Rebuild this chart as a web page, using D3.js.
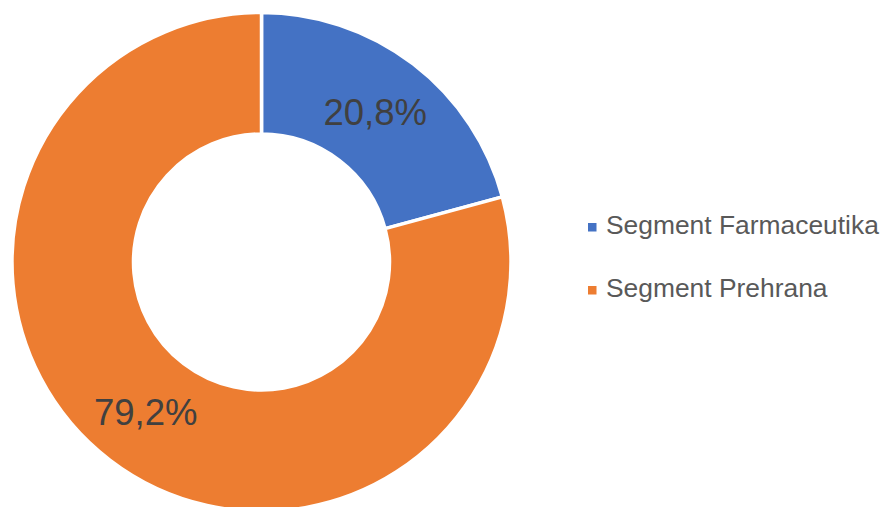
<!DOCTYPE html>
<html>
<head>
<meta charset="utf-8">
<script src="https://cdn.jsdelivr.net/npm/d3@7"></script>
<style>
  body { margin: 0; background: #fff; }
  svg { display: block; }
</style>
</head>
<body>
<svg id="chart" width="880" height="507"></svg>
<script>
var categories = ["Segment Farmaceutika", "Segment Prehrana"];
var shares = [20.8, 79.2];
var labels = ["20,8%", "79,2%"];
var colors = ["#4472C4", "#ED7D31"];

var svg = d3.select("#chart");

// donut geometry
var cx = 261.5, cy = 262,
    outerR = 249.5, innerR = 128;

var data = categories.map(function (c, i) {
    return {name: c, value: shares[i], label: labels[i], color: colors[i]};
});

var pie = d3.pie()
    .sort(null)
    .value(function (d) { return d.value; });

var arc = d3.arc()
    .innerRadius(innerR)
    .outerRadius(outerR);

var g = svg.append("g")
    .attr("transform", "translate(" + cx + "," + cy + ")");

var slices = g.selectAll(".slice")
    .data(pie(data))
    .enter()
    .append("g")
    .attr("class", "slice");

slices.append("path")
    .attr("d", arc)
    .style("fill", function (d) { return d.data.color; })
    .style("stroke", "#fff")
    .style("stroke-width", 3.5);

slices.append("text")
    .attr("transform", function (d) {
        var c = arc.centroid(d);
        return "translate(" + (c[0] - 1) + "," + c[1] + ")";
    })
    .attr("dy", "0.36em")
    .attr("text-anchor", "middle")
    .attr("font-family", "Liberation Sans, Arial, sans-serif")
    .attr("font-size", 36.5)
    .style("fill", "#404040")
    .text(function (d) { return d.data.label; });

// legend
var legend = svg.append("g")
    .attr("transform", "translate(588,227)");

var item = legend.selectAll(".item")
    .data(data)
    .enter()
    .append("g")
    .attr("class", "item")
    .attr("transform", function (d, i) { return "translate(0," + (i * 63) + ")"; });

item.append("rect")
    .attr("x", 0)
    .attr("y", -4)
    .attr("width", 8.5)
    .attr("height", 8.5)
    .style("fill", function (d) { return d.color; });

item.append("text")
    .attr("x", 18)
    .attr("y", 7)
    .attr("font-family", "Liberation Sans, Arial, sans-serif")
    .attr("font-size", 26.4)
    .style("fill", "#595959")
    .text(function (d) { return d.name; });
</script>
</body>
</html>
